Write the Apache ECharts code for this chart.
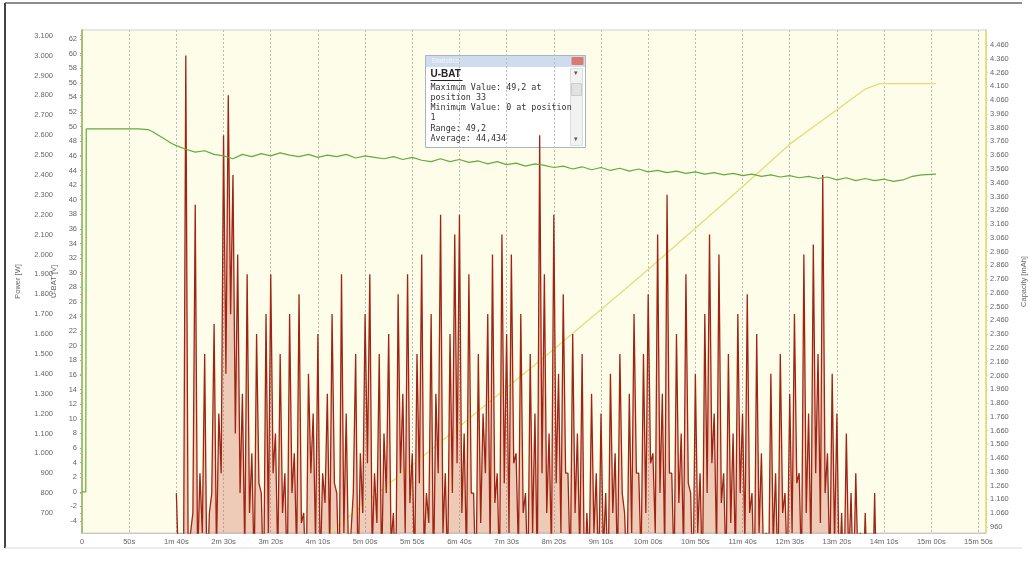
<!DOCTYPE html>
<html>
<head>
<meta charset="utf-8">
<title>U-BAT / Power / Capacity</title>
<script src="https://cdn.jsdelivr.net/npm/echarts@6/dist/echarts.min.js"></script>
<style>
  html, body { margin: 0; padding: 0; background: #fff; }
  #main { width: 1028px; height: 562px; }
</style>
</head>
<body>
<div id="main"></div>
<script>
// logged samples, time in seconds
const powerStart = 100;
const powerStep = 2.5;
const powerValues = [
  800, 400, 500, 300, 3000, 500, 600, 700, 2250, 450,
  900, 600, 1500, 300, 700, 800, 1650, 500, 1200, 900,
  2600, 1400, 2800, 1700, 2400, 1100, 2000, 800, 1300, 500,
  1900, 700, 1000, 400, 1600, 850, 800, 300, 1700, 600,
  1900, 900, 1100, 450, 1500, 700, 900, 350, 1700, 800,
  1000, 500, 1800, 650, 700, 300, 1400, 900, 1200, 550,
  1600, 400, 900, 750, 1300, 500, 1700, 850, 800, 300,
  1900, 600, 1200, 450, 600, 800, 1500, 350, 1000, 700,
  1700, 950, 1900, 500, 900, 650, 1500, 400, 1100, 800,
  1600, 550, 700, 300, 1800, 900, 1300, 600, 1900, 750,
  1000, 400, 1500, 850, 2000, 500, 800, 650, 1700, 350,
  1300, 900, 2200, 600, 900, 400, 1600, 800, 2100, 950,
  2200, 700, 1100, 450, 1900, 800, 800, 300, 1500, 650,
  1200, 900, 1700, 500, 2000, 750, 900, 400, 2100, 850,
  1600, 600, 2000, 950, 1000, 500, 1700, 700, 800, 350,
  1500, 600, 1200, 400, 2600, 900, 1900, 700, 1100, 500,
  2200, 850, 1400, 600, 1800, 900, 900, 400, 1600, 700,
  1100, 500, 1500, 300, 700, 450, 1300, 600, 900, 350,
  1200, 500, 800, 300, 1400, 700, 1000, 400, 1500, 800,
  700, 350, 1300, 600, 1700, 900, 900, 450, 1500, 700,
  1800, 950, 1000, 600, 2100, 800, 1300, 500, 2300, 900,
  900, 400, 1600, 750, 1100, 500, 1900, 850, 800, 300,
  1400, 600, 900, 350, 1700, 800, 2100, 950, 1200, 500,
  2000, 750, 900, 400, 1500, 650, 1100, 450, 1700, 800,
  1200, 550, 1800, 700, 800, 300, 1600, 600, 1000, 400,
  600, 300, 1400, 550, 900, 350, 1500, 700, 800, 400,
  1300, 600, 1700, 850, 900, 400, 2000, 700, 1200, 500,
  2050, 900, 1500, 650, 2400, 800, 1000, 400, 1400, 550,
  1200, 350, 700, 300, 1100, 450, 800, 300, 900, 400,
  600, 250, 700, 300, 500, 200, 800, 200
];

const ubatTimes = [0, 4, 4.5, 10, 20, 30, 40, 50, 60, 70, 75, 80, 85, 90, 95,
  100, 110, 120, 130, 140, 150, 160, 170, 180, 190, 200, 210, 220, 230, 240,
  250, 260, 270, 280, 290, 300, 310, 320, 330, 340, 350, 360, 370, 380, 390,
  400, 410, 420, 430, 440, 450, 460, 470, 480, 490, 500, 510, 520, 530, 540,
  550, 560, 570, 580, 590, 600, 610, 620, 630, 640, 650, 660, 670, 680, 690,
  700, 710, 720, 730, 740, 750, 760, 770, 780, 790, 800, 810, 820, 830, 840,
  850, 860, 870, 880, 890, 905];
const ubatValues = [0, 0, 49.7, 49.7, 49.7, 49.7, 49.7, 49.7, 49.7, 49.6, 49.3, 48.9, 48.5, 48.1, 47.7,
  47.4, 46.9, 46.5, 46.7, 46.2, 46.0, 45.6, 46.2, 45.9, 46.3, 46.0, 46.4, 46.1, 45.9, 46.2,
  45.8, 46.1, 45.9, 46.2, 45.7, 46.0, 45.8, 45.6, 45.9, 45.5, 45.8, 45.4, 45.2, 45.6, 45.2,
  45.5, 45.1, 45.3, 44.9, 45.2, 44.8, 45.0, 44.6, 44.9, 44.7, 44.4, 44.6, 44.2, 44.5, 44.1,
  44.4, 44.0, 44.3, 43.9, 44.2, 43.8, 44.0, 43.7, 43.9, 43.6, 43.8, 43.5, 43.7, 43.4, 43.6,
  43.3, 43.5, 43.2, 43.4, 43.1, 43.3, 43.0, 43.2, 42.9, 43.1, 42.7, 43.0, 42.6, 42.9, 42.6,
  42.8, 42.5, 42.7, 43.2, 43.4, 43.5];

const capTimes = [100, 150, 200, 250, 300, 350, 400, 450, 500, 550, 600, 650, 700, 750, 800, 830, 845, 905];
const capValues = [0, 290, 570, 850, 1130, 1410, 1690, 1970, 2250, 2540, 2830, 3130, 3430, 3740, 3990, 4140, 4180, 4180];

// tick labels
const timeTicks = [0, 50, 100, 150, 200, 250, 300, 350, 400, 450, 500, 550, 600, 650, 700, 750, 800, 850, 900, 950];
const powerTicks = [700, 800, 900, 1000, 1100, 1200, 1300, 1400, 1500, 1600, 1700, 1800, 1900, 2000,
  2100, 2200, 2300, 2400, 2500, 2600, 2700, 2800, 2900, 3000, 3100];
const ubatTicks = [-4, -2, 0, 2, 4, 6, 8, 10, 12, 14, 16, 18, 20, 22, 24, 26, 28, 30, 32,
  34, 36, 38, 40, 42, 44, 46, 48, 50, 52, 54, 56, 58, 60, 62];
const capTicks = [960, 1060, 1160, 1260, 1360, 1460, 1560, 1660, 1760, 1860, 1960, 2060, 2160, 2260,
  2360, 2460, 2560, 2660, 2760, 2860, 2960, 3060, 3160, 3260, 3360, 3460, 3560, 3660, 3760,
  3860, 3960, 4060, 4160, 4260, 4360, 4460];

const statLines = [
  'Maximum Value: 49,2 at',
  'position 33',
  'Minimum Value: 0 at position',
  '1',
  'Range: 49,2',
  'Average: 44,434'
];

function fmtNum(v) {
  return String(Math.round(v)).replace(/\B(?=(\d{3})+(?!\d))/g, '.');
}
function fmtTime(t) {
  if (t === 0) return '0';
  const m = Math.floor(t / 60), s = t % 60;
  if (!m) return s + 's';
  return m + 'm ' + String(s).padStart(2, '0') + 's';
}

const powerData = powerValues.map((v, i) => [powerStart + i * powerStep, v]);
const ubatData = ubatTimes.map((t, i) => [t, ubatValues[i]]);
const capData = capTimes.map((t, i) => [t, capValues[i]]);

const labelFont = { fontSize: 7.5, color: '#666', fontFamily: 'Liberation Sans, Arial, sans-serif' };

const myChart = echarts.init(document.getElementById('main'));
const option = {
  backgroundColor: '#fff',
  animation: false,
  grid: {
    left: 82, top: 30, right: 42, bottom: 29,
    outerBoundsMode: 'none',
    show: true, backgroundColor: '#fefde9', borderColor: '#cfcfcf', borderWidth: 1
  },
  xAxis: {
    type: 'value',
    min: 0, max: 958, interval: 50,
    axisLine: { onZero: false, lineStyle: { color: '#c8c8c8' } },
    axisTick: { show: false },
    axisLabel: Object.assign({ customValues: timeTicks, formatter: fmtTime, margin: 5 }, labelFont),
    splitLine: { show: true, lineStyle: { color: '#bdbdb5', type: [2, 2], width: 1 } }
  },
  yAxis: [
    {
      name: 'Power [W]', nameLocation: 'middle', nameRotate: 90, nameGap: 35,
      nameTextStyle: { fontSize: 7.5, color: '#666' },
      type: 'value', position: 'left', offset: 25,
      min: 599.4, max: 3128.7,
      axisLine: { show: true, lineStyle: { color: '#e8a08e', width: 1.5 } },
      axisTick: { show: true, length: 2, customValues: powerTicks, lineStyle: { color: '#e8a08e' } },
      axisLabel: Object.assign({ customValues: powerTicks, formatter: fmtNum, margin: 4 }, labelFont),
      splitLine: { show: false }
    },
    {
      name: 'U-BAT [V]', nameLocation: 'middle', nameRotate: 90, nameGap: 18,
      nameTextStyle: { fontSize: 7.5, color: '#666' },
      type: 'value', position: 'left', offset: 0,
      min: -5.64, max: 63.23,
      axisLine: { show: true, lineStyle: { color: '#8cc46c', width: 1.5 } },
      axisTick: { show: true, length: 2, customValues: ubatTicks, lineStyle: { color: '#8cc46c' } },
      axisLabel: Object.assign({ customValues: ubatTicks, formatter: fmtNum, margin: 5 }, labelFont),
      splitLine: { show: false }
    },
    {
      name: 'Capacity [mAh]', nameLocation: 'middle', nameRotate: 90, nameGap: 29,
      nameTextStyle: { fontSize: 7.5, color: '#666' },
      type: 'value', position: 'right', offset: 0,
      min: 916, max: 4569,
      axisLine: { show: true, lineStyle: { color: '#e6df72', width: 1.5 } },
      axisTick: { show: true, length: 2, customValues: capTicks, lineStyle: { color: '#e6df72' } },
      axisLabel: Object.assign({ customValues: capTicks, formatter: fmtNum, margin: 4 }, labelFont),
      splitLine: { show: false }
    }
  ],
  series: [
    {
      name: 'Capacity', type: 'line', yAxisIndex: 2, data: capData,
      symbol: 'none', lineStyle: { color: '#e4dc7a', width: 1.3 }
    },
    {
      name: 'Power', type: 'line', yAxisIndex: 0, data: powerData,
      symbol: 'none', lineStyle: { color: '#9e2414', width: 1.3 },
      areaStyle: { color: 'rgba(200, 84, 62, 0.42)' }
    },
    {
      name: 'U-BAT', type: 'line', yAxisIndex: 1, data: ubatData,
      symbol: 'none', lineStyle: { color: '#62ac3e', width: 1.2 }
    }
  ],
  graphic: [
    // outer frame of the figure
    { type: 'line', shape: { x1: 5, y1: 3, x2: 1022, y2: 3 }, style: { stroke: '#666', lineWidth: 1.5 } },
    { type: 'line', shape: { x1: 5, y1: 3, x2: 5, y2: 548 }, style: { stroke: '#444', lineWidth: 2 } },
    { type: 'line', shape: { x1: 5, y1: 548, x2: 1022, y2: 548 }, style: { stroke: '#d8d8d8', lineWidth: 1 } },
    // statistics window
    {
      type: 'group', left: 425, top: 55,
      children: [
        { type: 'rect', shape: { x: 0, y: 0, width: 160, height: 92 }, style: { fill: '#fff', stroke: '#a8b4c4', lineWidth: 1 } },
        { type: 'rect', shape: { x: 0.5, y: 0.5, width: 159, height: 11 }, style: { fill: '#cfdcee' } },
        { type: 'text', style: { x: 6, y: 2, text: 'Statistics', fontSize: 7, fill: '#f4f7fb', fontFamily: 'Liberation Sans, sans-serif' } },
        { type: 'rect', shape: { x: 146, y: 1.5, width: 12, height: 8, r: 1 }, style: { fill: '#d87a70' } },
        { type: 'rect', shape: { x: 145, y: 13, width: 12, height: 77 }, style: { fill: '#f2f2f2', stroke: '#dddddd' } },
        { type: 'rect', shape: { x: 146, y: 28, width: 10, height: 12 }, style: { fill: '#e2e2e2', stroke: '#cccccc' } },
        { type: 'text', style: { x: 148, y: 14, text: '▾', fontSize: 7, fill: '#555' } },
        { type: 'text', style: { x: 148, y: 80, text: '▾', fontSize: 7, fill: '#555' } },
        {
          type: 'text',
          style: {
            x: 5, y: 14, text: 'U-BAT', fontSize: 10, fontWeight: 'bold', fill: '#222',
            fontFamily: 'Liberation Sans, Arial, sans-serif'
          }
        },
        { type: 'line', shape: { x1: 5, y1: 25, x2: 37, y2: 25 }, style: { stroke: '#222', lineWidth: 1 } },
        {
          type: 'text',
          style: {
            x: 5, y: 27, text: statLines.join('\n'), fontSize: 8.4, lineHeight: 10.2, fill: '#333',
            fontFamily: 'DejaVu Sans Mono, Liberation Mono, monospace'
          }
        }
      ]
    }
  ]
};
option && myChart.setOption(option);
</script>
</body>
</html>
